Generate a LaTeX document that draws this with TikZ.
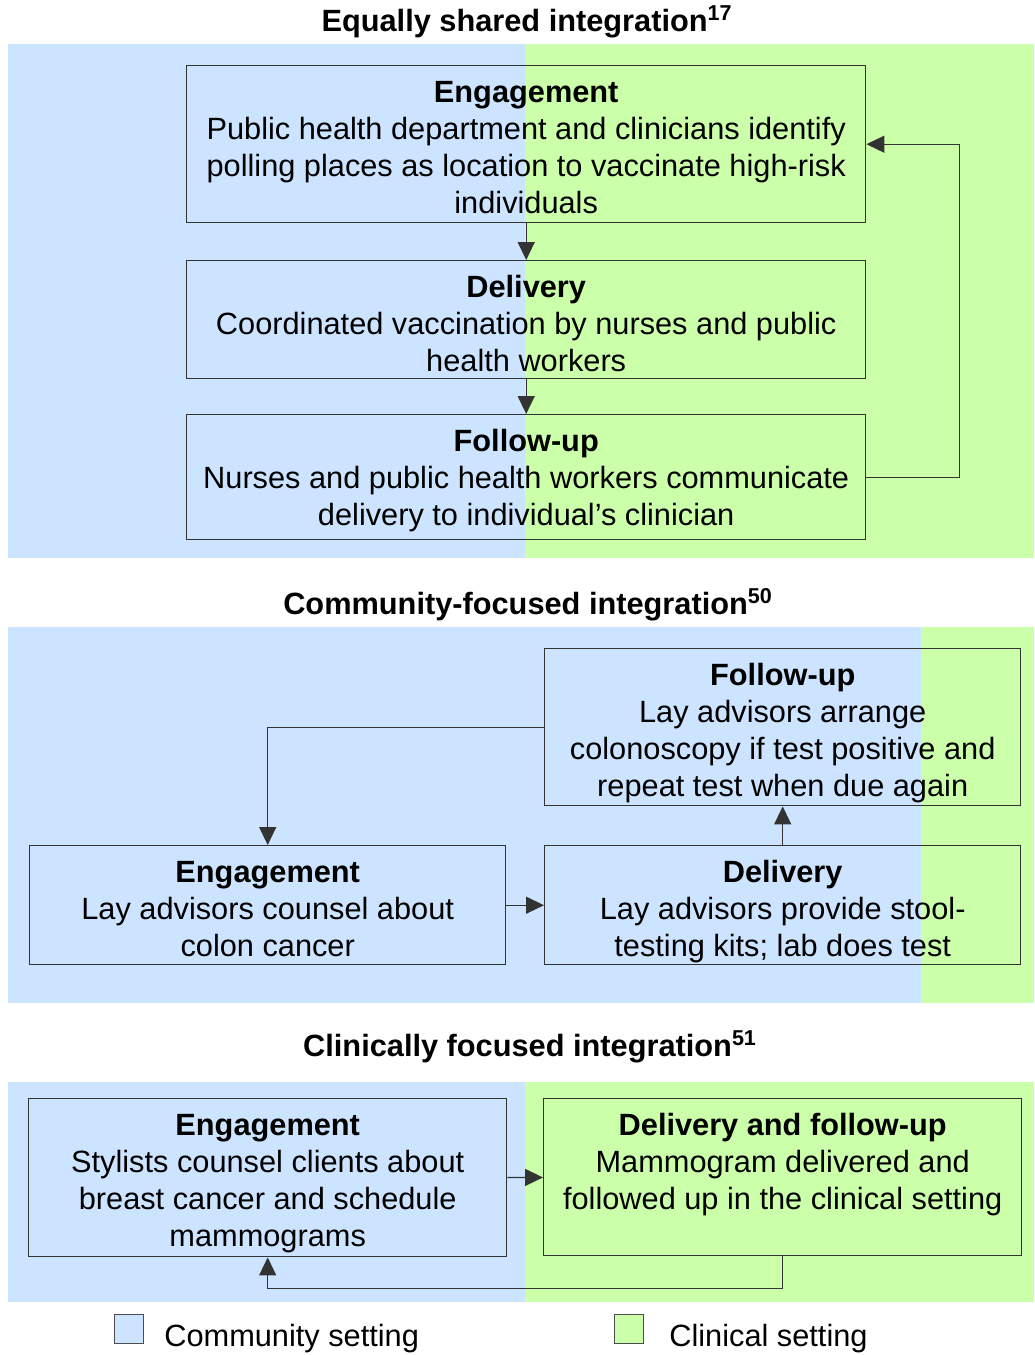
\documentclass[tikz,border=0pt]{standalone}
\usepackage{fontspec}
\setmainfont{Liberation Sans}
\usetikzlibrary{arrows.meta,positioning}
\newlength{\px}
\setlength{\px}{0.02cm}
\definecolor{commblue}{RGB}{204,228,255}
\definecolor{clingreen}{RGB}{204,255,170}
\newcommand{\stepbody}[3]{\parbox[c][#2\px][t]{#1\px}{\centering\rule{0pt}{21pt}#3}}
\tikzset{
  stepbox/.style={draw=black!80, line width=0.8pt, inner sep=0pt, anchor=north west},
  flow/.style={draw=black!80, line width=0.8pt, -{Triangle[length=0.36cm,width=0.34cm]}},
  paneltitle/.style={font=\fontsize{17.5}{21}\selectfont\bfseries, inner sep=0pt},
  legbox/.style={draw=black!70, line width=0.6pt, minimum size=0.58cm, inner sep=0pt},
  legtext/.style={inner sep=0pt, yshift=-0.2cm}
}
\begin{document}
\begin{tikzpicture}[x=0.02cm, y=-0.02cm, font=\fontsize{17.5}{21}\selectfont]
      \useasboundingbox (0,0) rectangle (1034,1355);
      \fill[commblue] (8,44) rectangle (525,558);
      \fill[clingreen] (525,44) rectangle (1034,558);
      \fill[commblue] (8,627) rectangle (921,1003);
      \fill[clingreen] (921,627) rectangle (1034,1003);
      \fill[commblue] (8,1082) rectangle (525,1302);
      \fill[clingreen] (525,1082) rectangle (1034,1302);

      \node[paneltitle] (t1) at (527,22) {Equally shared integration\textsuperscript{17}};
      \node[stepbox] (eng1) at (186,65) {\stepbody{679}{157}{\textbf{Engagement}\\Public health department and clinicians identify\\polling places as location to vaccinate high-risk\\individuals}};
      \node[stepbox] (del1) at (186,260) {\stepbody{679}{118}{\textbf{Delivery}\\Coordinated vaccination by nurses and public\\health workers}};
      \node[stepbox] (fu1) at (186,414) {\stepbody{679}{125}{\textbf{Follow-up}\\Nurses and public health workers communicate\\delivery to individual’s clinician}};

      \node[paneltitle] (t2) at (528,605) {Community-focused integration\textsuperscript{50}};
      \node[stepbox] (fu2) at (544,648) {\stepbody{476}{157}{\textbf{Follow-up}\\Lay advisors arrange\\colonoscopy if test positive and\\repeat test when due again}};
      \node[stepbox] (eng2) at (29,845) {\stepbody{476}{119}{\textbf{Engagement}\\Lay advisors counsel about\\colon cancer}};
      \node[stepbox] (del2) at (544,845) {\stepbody{476}{119}{\textbf{Delivery}\\Lay advisors provide stool-\\testing kits; lab does test}};

      \node[paneltitle] (t3) at (530,1047) {Clinically focused integration\textsuperscript{51}};
      \node[stepbox] (eng3) at (28,1098) {\stepbody{478}{158}{\textbf{Engagement}\\Stylists counsel clients about\\breast cancer and schedule\\mammograms}};
      \node[stepbox] (del3) at (543,1098) {\stepbody{478}{157}{\textbf{Delivery and follow-up}\\Mammogram delivered and\\followed up in the clinical setting}};

      \node[legbox, fill=commblue] (leg1) at (129,1329) {};
      \node[legtext, right=0.4cm of leg1] (leg1t) {Community setting};
      \node[legbox, fill=clingreen] (leg2) at (629,1329) {};
      \node[legtext, right=0.5cm of leg2] (leg2t) {Clinical setting};

      \begin{scope}[flow]
        \draw (eng1) -- (del1);
        \draw (del1) -- (fu1);
        \draw (fu1.east) -- ++(93,0) |- (eng1.east);
        \draw (eng2) -- (del2);
        \draw (del2) -- (fu2);
        \draw (fu2.west) -| (eng2.north);
        \draw (eng3) -- (del3);
        \draw (del3.south) -- ++(0,32) -| (eng3.south);
      \end{scope}
    \end{tikzpicture}
\end{document}
